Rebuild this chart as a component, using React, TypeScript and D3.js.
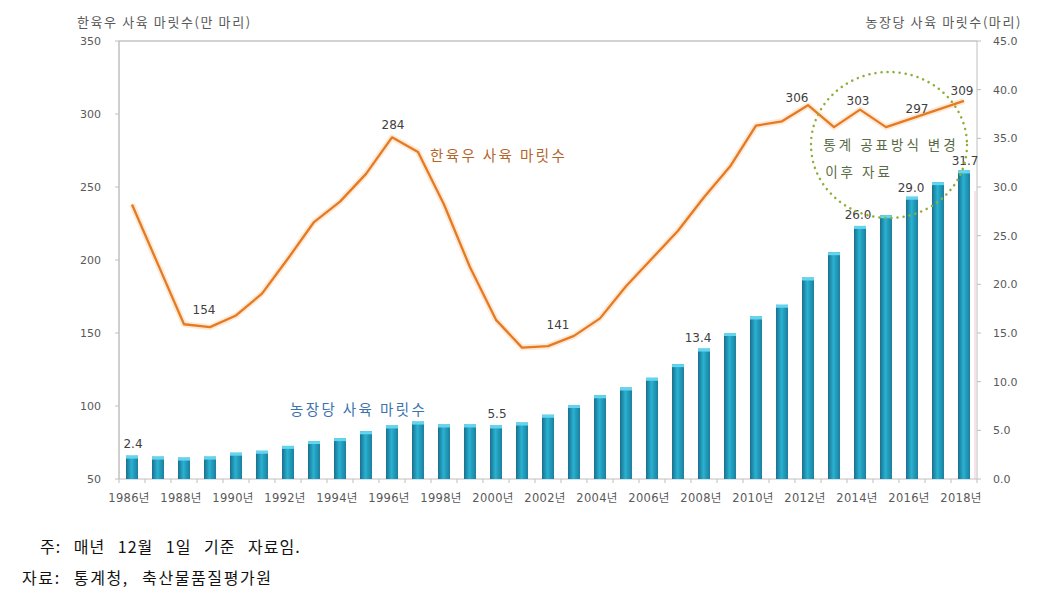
import React from "react";
import * as d3 from "d3";

const years = ["1986","1987","1988","1989","1990","1991","1992","1993","1994","1995","1996","1997","1998","1999","2000","2001","2002","2003","2004","2005","2006","2007","2008","2009","2010","2011","2012","2013","2014","2015","2016","2017","2018"];
const cattle = [238,197,156,154,162,177,201,226,240,259,284,274,238,195,159,140,141,148,160,182,201,220,243,264,292,295,306,291,303,291,297,303,309];
const perFarm = [2.4,2.3,2.2,2.3,2.7,2.9,3.4,3.9,4.2,4.9,5.5,5.9,5.6,5.6,5.5,5.8,6.6,7.6,8.6,9.4,10.4,11.8,13.4,15.0,16.7,17.9,20.7,23.3,26.0,27.1,29.0,30.5,31.7];
const leftTicks = [50,100,150,200,250,300,350];
const rightTicks = [0,5,10,15,20,25,30,35,40,45];
const lineLabels = [
  { year: "1989", text: "154", dx: -6, dy: -17 },
  { year: "1996", text: "284", dx: 1, dy: -13 },
  { year: "2002", text: "141", dx: 10, dy: -21 },
  { year: "2012", text: "306", dx: -11, dy: -7 },
  { year: "2014", text: "303", dx: -2, dy: -9 },
  { year: "2016", text: "297", dx: 5, dy: -10 },
  { year: "2018", text: "309", dx: -2, dy: -10 },
];
const barLabels = [
  { year: "1986", text: "2.4", dx: 1, dy: -12 },
  { year: "2000", text: "5.5", dx: 1, dy: -12 },
  { year: "2008", text: "13.4", dx: -6, dy: -11 },
  { year: "2014", text: "26.0", dx: -2, dy: -11 },
  { year: "2016", text: "29.0", dx: -1, dy: -9 },
  { year: "2018", text: "31.7", dx: 1, dy: -10 },
];

const W = 1057, H = 607;
const L = 119, R = 977, T = 41, B = 479;
const KFONT = "'Noto Sans CJK KR', 'Noto Sans', sans-serif";
const NFONT = "'DejaVu Sans', 'Noto Sans CJK KR', sans-serif";

export default function App() {
  const x = d3.scaleBand<string>().domain(years).range([L, R]).paddingInner(0).paddingOuter(0);
  const yL = d3.scaleLinear().domain([50, 350]).range([B, T]);
  const yR = d3.scaleLinear().domain([0, 45]).range([B, T]);
  const cx = (yr: string) => (x(yr) as number) + x.bandwidth() / 2;
  const barW = 12;
  const line = d3.line<number>().x((_, i) => cx(years[i])).y((d) => yL(d));
  const labelYears = years.filter((_, i) => i % 2 === 0);

  return (
    <svg width={W} height={H} style={{ position: "absolute", left: 0, top: 0, background: "#fff" }}>
      <defs>
        <linearGradient id="barg" x1="0" x2="1" y1="0" y2="0">
          <stop offset="0%" stopColor="#1a6f8c" />
          <stop offset="45%" stopColor="#29b1d2" />
          <stop offset="100%" stopColor="#1b7f9d" />
        </linearGradient>
      </defs>
      {/* axis titles */}
      <text x={77} y={27} fontFamily={KFONT} fontSize={13} letterSpacing={1.6} fill="#595959">한육우 사육 마릿수(만 마리)</text>
      <text x={1022} y={27} fontFamily={KFONT} fontSize={13} letterSpacing={1.6} fill="#595959" textAnchor="end">농장당 사육 마릿수(마리)</text>
      {/* frame lines */}
      <line x1={L} x2={R} y1={T} y2={T} stroke="#a6a6a6" strokeWidth={1} />
      <line x1={L} x2={L} y1={T} y2={B} stroke="#bfbfbf" strokeWidth={1.5} />
      <line x1={R} x2={R} y1={T} y2={B} stroke="#bfbfbf" strokeWidth={1} />
      <line x1={R - 2} x2={R - 2} y1={T + 150} y2={B} stroke="#f2c6d6" strokeWidth={1} />
      <line x1={L} x2={R} y1={B} y2={B} stroke="#bfbfbf" strokeWidth={1} />
      {/* left ticks */}
      {leftTicks.map((t) => (
        <g key={"l" + t}>
          <line x1={L - 4} x2={L} y1={yL(t)} y2={yL(t)} stroke="#bfbfbf" />
          <text x={101} y={yL(t)} dy="0.35em" textAnchor="end" fontFamily={NFONT} fontSize={11} fill="#595959">{t}</text>
        </g>
      ))}
      {/* right ticks */}
      {rightTicks.map((t) => (
        <g key={"r" + t}>
          <line x1={R} x2={R + 4} y1={yR(t)} y2={yR(t)} stroke="#bfbfbf" />
          <text x={993} y={yR(t)} dy="0.35em" textAnchor="start" fontFamily={NFONT} fontSize={11} fill="#595959">{t.toFixed(1)}</text>
        </g>
      ))}
      {/* x ticks */}
      {years.map((yr) => (
        <line key={"xt" + yr} x1={x(yr) as number} x2={x(yr) as number} y1={B} y2={B + 4} stroke="#bfbfbf" />
      ))}
      <line x1={R} x2={R} y1={B} y2={B + 4} stroke="#bfbfbf" />
      {labelYears.map((yr) => (
        <text key={"xl" + yr} x={cx(yr) - 3} y={498} dy="0.35em" textAnchor="middle" fontFamily={NFONT} fontSize={11.5} letterSpacing={0.3} fill="#595959">{yr}년</text>
      ))}
      {/* bars */}
      {perFarm.map((v, i) => {
        const yr = years[i];
        const top = yR(v);
        return (
          <g key={"b" + yr}>
            <rect x={cx(yr) - barW / 2} y={top} width={barW} height={B - top} fill="url(#barg)" />
            <rect x={cx(yr) - barW / 2} y={top} width={barW} height={3} fill="#63d5ee" />
          </g>
        );
      })}
      {/* line */}
      <path d={line(cattle) || ""} fill="none" stroke="#fde3cc" strokeWidth={6} strokeLinejoin="round" opacity={0.8} />
      <path d={line(cattle) || ""} fill="none" stroke="#e57a22" strokeWidth={2.3} strokeLinejoin="round" />
      {/* line labels */}
      {lineLabels.map((l) => {
        const i = years.indexOf(l.year);
        return (
          <text key={"ll" + l.year} x={cx(l.year) + l.dx} y={yL(cattle[i]) + l.dy} dy="0.35em" textAnchor="middle" fontFamily={NFONT} fontSize={12} fill="#404040">{l.text}</text>
        );
      })}
      {barLabels.map((l) => {
        const i = years.indexOf(l.year);
        return (
          <text key={"bl" + l.year} x={cx(l.year) + l.dx} y={yR(perFarm[i]) + l.dy} dy="0.35em" textAnchor="middle" fontFamily={NFONT} fontSize={12} fill="#404040">{l.text}</text>
        );
      })}
      {/* series names */}
      <text x={430} y={156} dy="0.35em" fontFamily={KFONT} fontSize={14.5} letterSpacing={2.4} fill="#b5652a">한육우 사육 마릿수</text>
      <text x={290} y={410} dy="0.35em" fontFamily={KFONT} fontSize={14.5} letterSpacing={2.4} fill="#3b73b0">농장당 사육 마릿수</text>
      {/* annotation */}
      <ellipse cx={889} cy={145} rx={78} ry={73} fill="none" stroke="#8fae3a" strokeWidth={2.5} strokeDasharray="0.1 6" strokeLinecap="round" />
      <text x={891} y={145} dy="0.35em" textAnchor="middle" fontFamily={KFONT} fontSize={13.5} letterSpacing={3} fill="#5b6b45">통계 공표방식 변경</text>
      <text x={859} y={172} dy="0.35em" textAnchor="middle" fontFamily={KFONT} fontSize={13.5} letterSpacing={3} fill="#5b6b45">이후 자료</text>
      {/* footnotes */}
      <text x={40} y={547} dy="0.35em" fontFamily={KFONT} fontSize={16} letterSpacing={1} wordSpacing={8} fill="#111">주: 매년 12월 1일 기준 자료임.</text>
      <text x={22} y={578} dy="0.35em" fontFamily={KFONT} fontSize={16} letterSpacing={1.6} wordSpacing={8} fill="#111">자료: 통계청, 축산물품질평가원</text>
    </svg>
  );
}
